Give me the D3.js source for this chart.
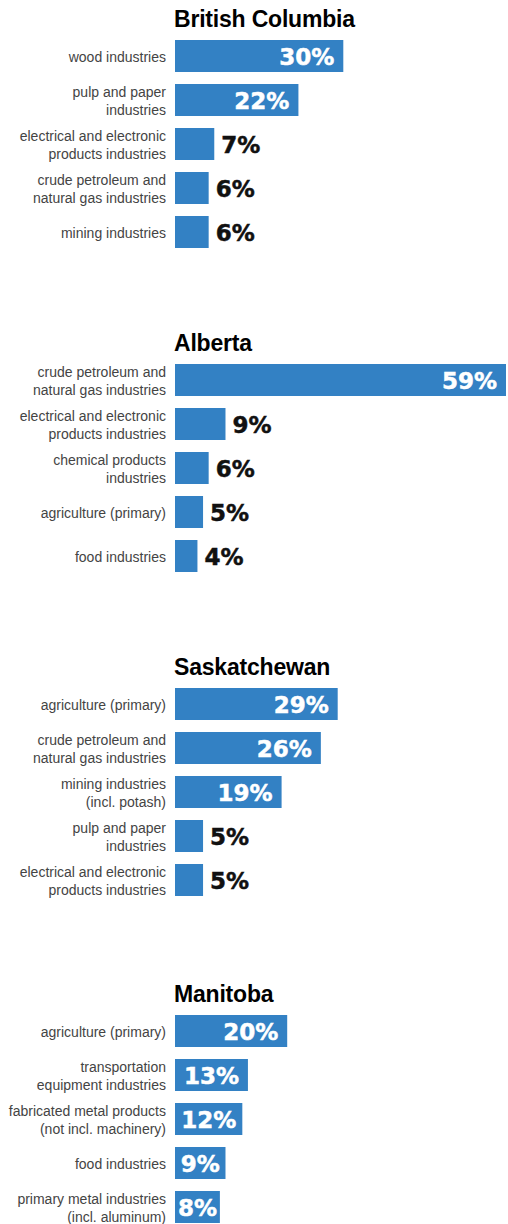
<!DOCTYPE html>
<html>
<head>
<meta charset="utf-8">
<script src="https://cdn.jsdelivr.net/npm/d3@7"></script>
<style>
  html, body { margin: 0; padding: 0; background: #fff; }
  svg { display: block; }
</style>
</head>
<body>
<svg id="chart" width="508" height="1224"></svg>
<script>
// Top industries by share of each province's exports (%)
const provinces = ["British Columbia", "Alberta", "Saskatchewan", "Manitoba"];

const bcCategories = ["wood industries", "pulp and paper\nindustries", "electrical and electronic\nproducts industries", "crude petroleum and\nnatural gas industries", "mining industries"];
const bcValues = [30, 22, 7, 6, 6];

const abCategories = ["crude petroleum and\nnatural gas industries", "electrical and electronic\nproducts industries", "chemical products\nindustries", "agriculture (primary)", "food industries"];
const abValues = [59, 9, 6, 5, 4];

const skCategories = ["agriculture (primary)", "crude petroleum and\nnatural gas industries", "mining industries\n(incl. potash)", "pulp and paper\nindustries", "electrical and electronic\nproducts industries"];
const skValues = [29, 26, 19, 5, 5];

const mbCategories = ["agriculture (primary)", "transportation\nequipment industries", "fabricated metal products\n(not incl. machinery)", "food industries", "primary metal industries\n(incl. aluminum)"];
const mbValues = [20, 13, 12, 9, 8];

// Smallest value whose label sits inside the bar, per panel
const insideFrom = [10, 10, 10, 0];

const panels = provinces.map((name, i) => ({
  name,
  categories: [bcCategories, abCategories, skCategories, mbCategories][i],
  values: [bcValues, abValues, skValues, mbValues][i],
  insideFrom: insideFrom[i]
}));

const svg = d3.select("#chart");
const panelTops = [0, 324, 648, 975];
const barLeft = 175;
const blue = "#3381c4";

const x = d3.scaleLinear().domain([0, 100]).range([0, 561]);

panels.forEach((p, pi) => {
  const g = svg.append("g").attr("transform", `translate(0,${panelTops[pi]})`);

  g.append("text")
    .attr("x", barLeft - 1)
    .attr("y", 27)
    .attr("font-family", "Liberation Sans, Arial, sans-serif")
    .attr("font-weight", 700)
    .attr("font-size", 23)
    .attr("letter-spacing", -0.2)
    .attr("fill", "#000")
    .text(p.name);

  const y = d3.scaleBand()
    .domain(d3.range(p.categories.length))
    .range([40, 40 + 208])
    .paddingInner(12 / 44)
    .paddingOuter(0);

  const rows = g.selectAll("g.row")
    .data(p.values.map((v, i) => ({ v, cat: p.categories[i], i })))
    .join("g").attr("class", "row");

  rows.append("rect")
    .attr("x", barLeft)
    .attr("y", d => y(d.i))
    .attr("width", d => x(d.v))
    .attr("height", y.bandwidth())
    .attr("fill", blue);

  // category labels, right-aligned beside the bars
  rows.each(function (d) {
    const lines = d.cat.split("\n");
    const cy = y(d.i) + y.bandwidth() / 2;
    const t = d3.select(this).append("text")
      .attr("text-anchor", "end")
      .attr("font-family", "Liberation Sans, Arial, sans-serif")
      .attr("font-size", 14)
      .attr("fill", "#444");
    lines.forEach((ln, li) => {
      t.append("tspan")
        .attr("x", 166)
        .attr("y", cy + 5.5 + (li - (lines.length - 1) / 2) * 18)
        .text(ln);
    });
  });

  // value labels
  rows.each(function (d) {
    const cy = y(d.i) + y.bandwidth() / 2;
    const w = x(d.v);
    const inside = d.v >= p.insideFrom;
    const col = inside ? "#fff" : "#111";
    const t = d3.select(this).append("text")
      .attr("font-family", "DejaVu Sans, sans-serif")
      .attr("font-weight", 700)
      .attr("font-size", 23)
      .attr("y", cy + 8.5)
      .attr("fill", col)
      .attr("stroke", col)
      .attr("stroke-width", 0.5)
      .text(d.v + "%");
    if (inside) {
      const tw = t.node().getComputedTextLength();
      const pad = Math.max(2, Math.min(9, (w - tw) / 2));
      t.attr("text-anchor", "end").attr("x", barLeft + w - pad);
    } else {
      t.attr("text-anchor", "start").attr("x", barLeft + w + 7);
    }
  });
});
</script>
</body>
</html>
